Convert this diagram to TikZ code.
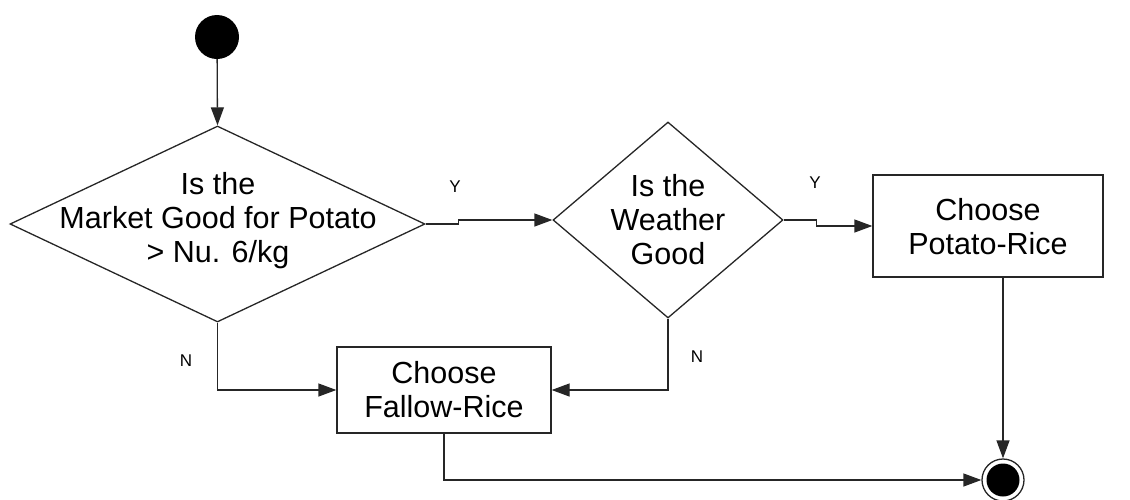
\documentclass[tikz,border=0pt]{standalone}
\usepackage{fontspec}
\setmainfont{Liberation Sans}
\usetikzlibrary{shapes.geometric,arrows.meta}
\begin{document}
\begin{tikzpicture}[x=1pt,y=-1pt,
  line/.style={line width=1.3pt,draw=black!85},
  flow/.style={line,-{Triangle[length=18pt,width=13pt]}},
  decision/.style={diamond,line,inner sep=0pt},
  action/.style={rectangle,line,inner sep=0pt},
  bodytext/.style={align=center,inner sep=0pt,font=\fontsize{30.5}{34}\selectfont},
  branch/.style={inner sep=0pt,font=\fontsize{17}{20}\selectfont},
  startnode/.style={circle,fill=black,minimum size=44pt,inner sep=0pt},
  endnode/.style={circle,line,minimum size=42pt,inner sep=0pt,
    path picture={\fill[black] (path picture bounding box.center) circle (16.5pt);}}]
  \useasboundingbox (0,0) rectangle (1130,499);

  % states
  \node[startnode] (start) at (217,37) {};
  \node[endnode] (fin) at (1003,480) {};

  % decisions
  \node[decision,minimum width=415pt,minimum height=196pt] (d1) at (217.5,224) {};
  \node[bodytext] (d1t) at (218,221) {Is the\\Market Good for Potato\\> Nu. 6/kg};
  \node[decision,minimum width=230pt,minimum height=196pt] (d2) at (668,220) {};
  \node[bodytext] (d2t) at (668,219.5) {Is the\\Weather\\Good};

  % actions
  \node[action,minimum width=230pt,minimum height=102pt] (pr) at (988,226) {};
  \node[bodytext] (prt) at (988,226.5) {Choose\\Potato-Rice};
  \node[action,minimum width=214pt,minimum height=86pt] (fr) at (444,390) {};
  \node[bodytext] (frt) at (444,389.5) {Choose\\Fallow-Rice};

  % connectors
  \draw[flow] (start) -- (d1.north);
  \draw[flow] (d1.east) -- ++(33,0) |- (d2.west);
  \draw[flow] (d2.east) -- ++(33,0) |- (pr.west);
  \draw[flow] (d1.south) |- (fr.west);
  \draw[flow] (d2.south) |- (fr.east);
  \draw[flow] (fr.south) |- (fin.west);
  \draw[flow] (fin |- pr.south) -- (fin);

  % branch labels
  \node[branch] (y1) at (455,187) {Y};
  \node[branch] (y2) at (815,183) {Y};
  \node[branch] (n1) at (186,361) {N};
  \node[branch] (n2) at (697,357) {N};
\end{tikzpicture}
\end{document}
